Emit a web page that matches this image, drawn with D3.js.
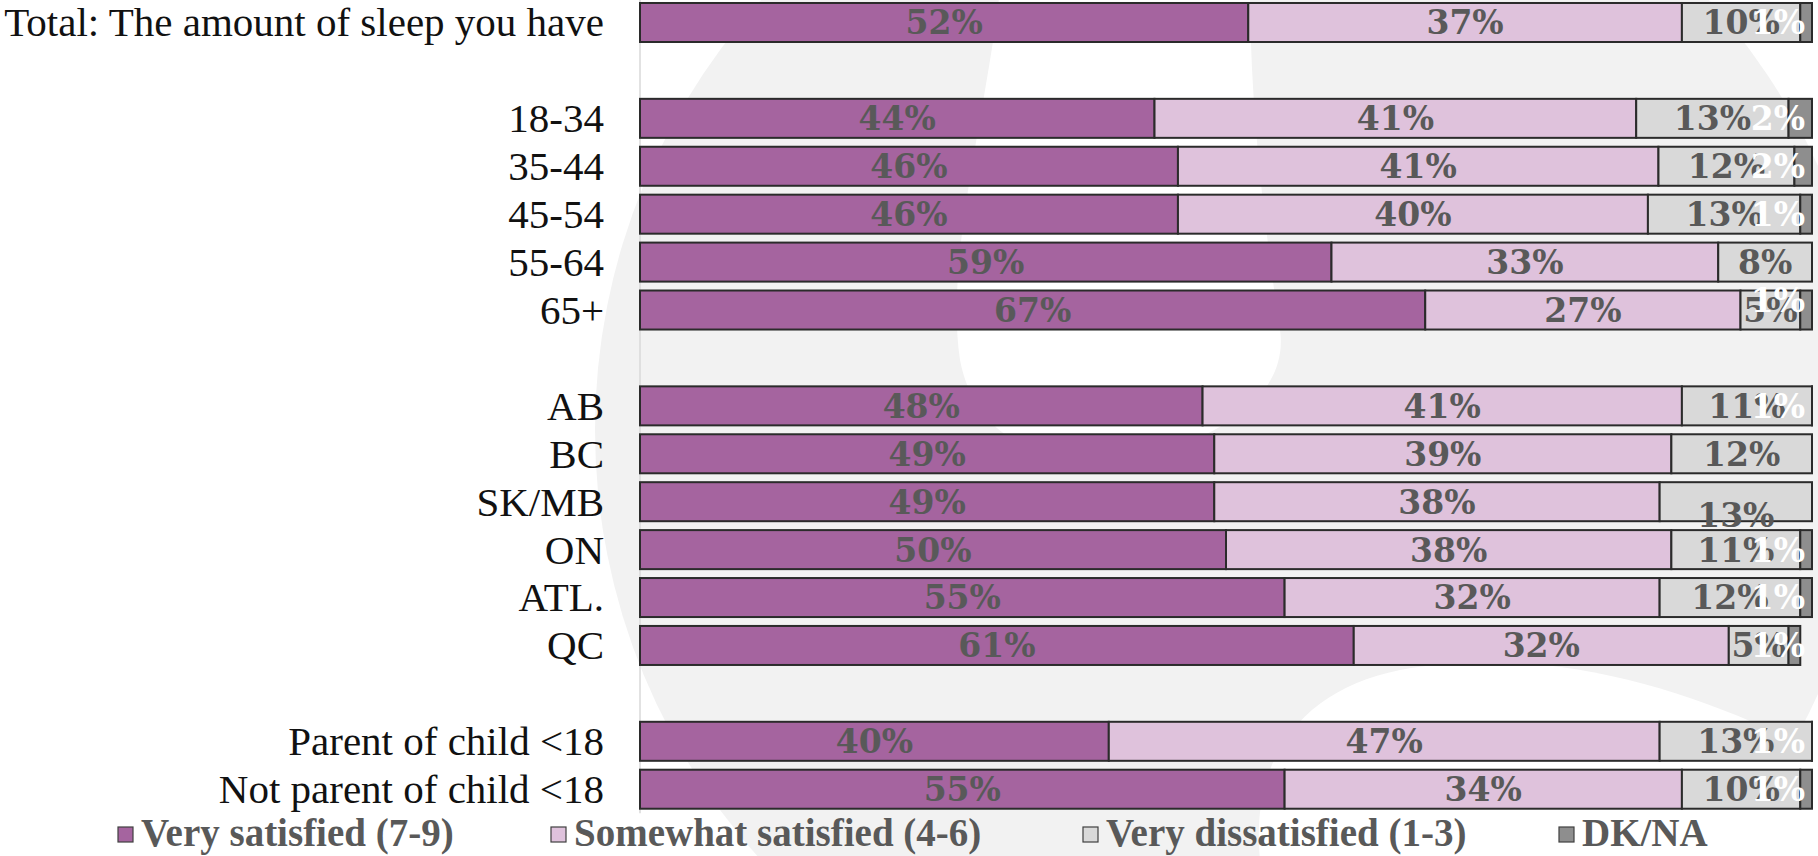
<!DOCTYPE html>
<html><head><meta charset="utf-8">
<script src="https://cdn.jsdelivr.net/npm/d3@7"></script>
<style>body{margin:0;background:#fff;} svg{display:block;}</style>
</head><body><svg id="c" width="1818" height="856"></svg>
<script>
// ---- data ----
const groups = [
  ["Total: The amount of sleep you have"],
  ["18-34", "35-44", "45-54", "55-64", "65+"],
  ["AB", "BC", "SK/MB", "ON", "ATL.", "QC"],
  ["Parent of child <18", "Not parent of child <18"]
];
const categories = groups.flat();
const seriesNames = ["Very satisfied (7-9)", "Somewhat satisfied (4-6)", "Very dissatisfied (1-3)", "DK/NA"];
const verySatisfied     = [51.9, 43.9, 45.9, 45.9, 59.0, 67.0, 48.0, 49.0, 49.0, 50.0, 55.0, 60.9, 40.0, 55.0];
const somewhatSatisfied = [37.0, 41.1, 41.0, 40.1, 33.0, 26.9, 40.9, 39.0, 38.0, 38.0, 32.0, 32.0, 47.0, 33.9];
const veryDissatisfied  = [10.1, 13.0, 11.6, 13.0,  8.0,  5.1, 11.1, 12.0, 13.0, 11.0, 12.0,  5.1, 13.0, 10.1];
const dkNa              = [ 1.0,  2.0,  1.5,  1.0,  0.0,  1.0,  0.6,  0.0,  0.0,  1.0,  1.0,  1.0,  0.6,  1.0];
const xDomain = [0, 100];

// ---- styles ----
const colors = ["#A5649F", "#DFC2DC", "#D9D9D9", "#8E8E8E"];
const labelColors = ["#595959", "#595959", "#595959", "#FFFFFF"];
const labelNudge = {"SK/MB|2": 13, "65+|3": -10};

const svg = d3.select("#c");
const W = 1818, H = 856;
const x0 = 640, x1 = 1812;

// faint watermark
const wm = svg.append("g");
wm.append("ellipse").attr("cx", 1235).attr("cy", 430).attr("rx", 640).attr("ry", 640).attr("fill", "#F2F2F2");
wm.append("path").attr("fill", "#FFFFFF")
  .attr("d", "M1000,-10 C985,120 945,260 960,360 C975,440 1050,470 1120,460 C1210,445 1290,400 1280,330 C1265,230 1250,110 1250,-10 Z");
wm.append("path").attr("fill", "#FFFFFF")
  .attr("d", "M1260,860 C1250,760 1300,690 1400,670 C1560,640 1720,700 1830,760 L1830,860 Z");

const rows = [];
groups.forEach((g, i) => { if (i > 0) rows.push("__gap" + i); g.forEach(c => rows.push(c)); });

const step = 47.92, firstCenter = 22.5;
const y = d3.scaleBand().domain(rows)
  .range([firstCenter - step / 2, firstCenter - step / 2 + step * rows.length])
  .paddingInner(0.165).paddingOuter(0.0825);
const x = d3.scaleLinear().domain(xDomain).range([x0, x1]);

const table = categories.map((c, i) => ({cat: c, s0: verySatisfied[i], s1: somewhatSatisfied[i], s2: veryDissatisfied[i], s3: dkNa[i]}));
const keys = ["s0", "s1", "s2", "s3"];
const stacked = d3.stack().keys(keys)(table);

// y axis line
svg.append("line").attr("x1", x0).attr("x2", x0).attr("y1", 0).attr("y2", y.range()[1])
  .attr("stroke", "#D9D9D9").attr("stroke-width", 1.5);

svg.append("defs").append("clipPath").attr("id", "plot")
  .append("rect").attr("x", x0 - 2).attr("y", -5).attr("width", x1 - x0 + 3).attr("height", H);

const bars = svg.append("g").attr("clip-path", "url(#plot)");
stacked.forEach((layer, si) => {
  bars.append("g").selectAll("rect").data(layer.filter(d => d[1] - d[0] > 0)).join("rect")
    .attr("x", d => x(d[0]))
    .attr("y", d => y(d.data.cat) + 0.5)
    .attr("width", d => x(d[1]) - x(d[0]))
    .attr("height", y.bandwidth() - 1)
    .attr("fill", colors[si])
    .attr("stroke", "#2B2B2B").attr("stroke-width", 2);
});

// category labels
svg.append("g").selectAll("text").data(categories).join("text")
  .attr("x", 604).attr("y", d => y(d) + y.bandwidth() / 2)
  .attr("dy", "0.34em").attr("text-anchor", "end")
  .attr("font-family", "'Liberation Serif', serif").attr("font-size", 41).attr("fill", "#111")
  .text(d => d);

// data labels
const lab = svg.append("g");
stacked.forEach((layer, si) => {
  layer.forEach(d => {
    const v = d[1] - d[0];
    if (v <= 0) return;
    const t = lab.append("text")
      .attr("text-anchor", "middle")
      .attr("font-family", "'DejaVu Serif', serif").attr("font-weight", "bold")
      .attr("font-size", 33).attr("fill", labelColors[si])
      .text(Math.round(v) + "%");
    const w = t.node().getComputedTextLength();
    let cx = x((d[0] + d[1]) / 2);
    if (cx + w / 2 > 1805) cx = 1805 - w / 2;
    const nudge = labelNudge[d.data.cat + "|" + si] || 0;
    t.attr("x", cx).attr("y", y(d.data.cat) + y.bandwidth() / 2 + nudge).attr("dy", "0.36em");
  });
});

// legend
const legX = [118, 551, 1083, 1559];
const leg = svg.append("g");
seriesNames.forEach((s, i) => {
  leg.append("rect").attr("x", legX[i]).attr("y", 827).attr("width", 15).attr("height", 15)
    .attr("fill", colors[i]).attr("stroke", "#404040").attr("stroke-width", 1.2);
  leg.append("text")
    .attr("x", legX[i] + 23).attr("y", 833)
    .attr("dy", "0.33em")
    .attr("font-family", "'Liberation Serif', serif").attr("font-weight", "bold")
    .attr("font-size", 39).attr("fill", "#595959").text(s);
});
</script></body></html>
